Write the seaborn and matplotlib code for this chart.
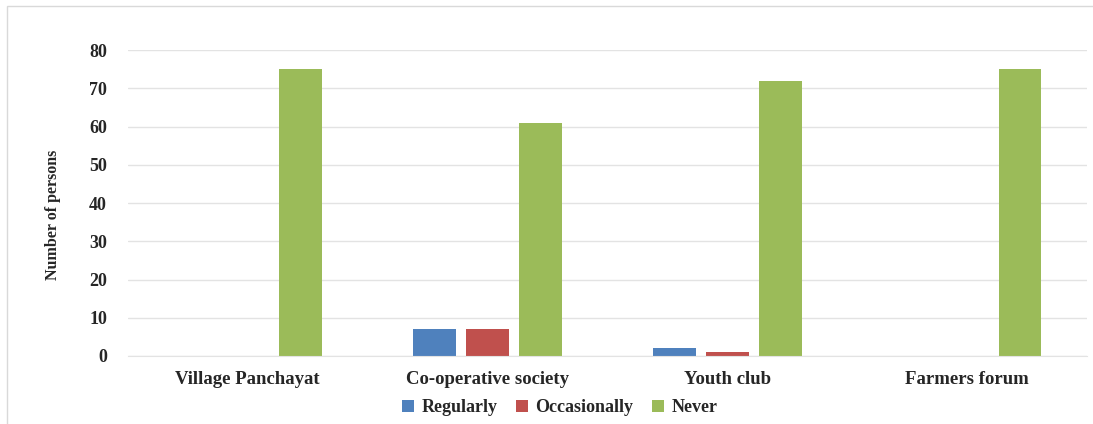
import pandas as pd
import matplotlib.pyplot as plt
import seaborn as sns
from matplotlib.patches import Rectangle

categories = ["Village Panchayat", "Co-operative society", "Youth club", "Farmers forum"]
regularly = [0, 7, 2, 0]
occasionally = [0, 7, 1, 0]
never = [75, 61, 72, 75]
series = ["Regularly", "Occasionally", "Never"]
colors = ["#4F81BD", "#C0504D", "#9BBB59"]
y_ticks = [0, 10, 20, 30, 40, 50, 60, 70, 80]

df = pd.DataFrame({
    "Category": categories * 3,
    "Frequency": [s for s in series for _ in categories],
    "Count": regularly + occasionally + never,
})

sns.set_style("white")
plt.rcParams["font.family"] = ["Liberation Serif", "DejaVu Serif"]
plt.rcParams["font.weight"] = "bold"

fig = plt.figure(figsize=(10.93, 4.24), dpi=100)
ax = fig.add_axes([0.117, 0.1604, 0.8775, 0.7216])

sns.barplot(data=df, x="Category", y="Count", hue="Frequency", hue_order=series,
            palette=colors, width=0.6625, gap=0.19, saturation=1, ax=ax,
            edgecolor="none", linewidth=0)

ax.set_ylim(0, 80)
ax.set_xlim(-0.5, 3.5)
ax.set_yticks(y_ticks)
ax.yaxis.grid(True, color="#E3E3E3", linewidth=1)
ax.set_axisbelow(True)
for s in ["top", "right", "left"]:
    ax.spines[s].set_visible(False)
ax.spines["bottom"].set_color("#E3E3E3")
ax.tick_params(axis="x", length=0, labelsize=13.5, pad=11)
ax.tick_params(axis="y", length=0, labelsize=13, pad=15)
for lbl in ax.get_xticklabels() + ax.get_yticklabels():
    lbl.set_fontweight("bold")
ax.set_xlabel("")
ax.set_ylabel("Number of persons", fontsize=11.5, fontweight="bold")
ax.yaxis.set_label_coords(-0.07, 0.46)

ax.legend(loc="center", bbox_to_anchor=(0.512, 0.038), bbox_transform=fig.transFigure,
          ncol=3, frameon=False, handlelength=0.7, handleheight=0.7,
          columnspacing=1.0, handletextpad=0.4,
          prop={"weight": "bold", "size": 13})

fig.patches.append(Rectangle((7 / 1093, -0.01), 1.02, 1 - 6 / 424 + 0.01,
                             transform=fig.transFigure, fill=False,
                             edgecolor="#D9D9D9", linewidth=1))

fig.savefig("out.png", dpi=100)
